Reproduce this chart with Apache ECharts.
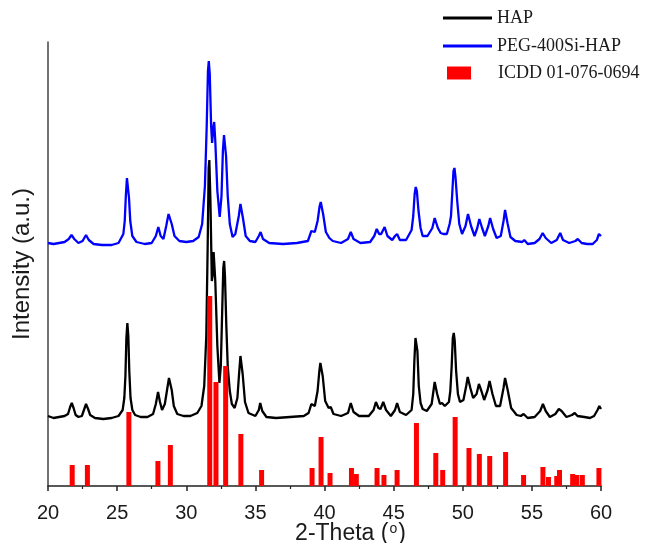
<!DOCTYPE html>
<html>
<head>
<meta charset="utf-8">
<script src="https://cdn.jsdelivr.net/npm/echarts@6/dist/echarts.min.js"></script>
<style>
  html, body { margin: 0; padding: 0; background: #fff; }
  #chart { width: 645px; height: 543px; }
</style>
</head>
<body>
<div id="chart"></div>
<script>
// X-ray diffraction patterns, 2-theta (degrees) vs. stacked intensity (arbitrary units)
const xTicks = [20, 25, 30, 35, 40, 45, 50, 55, 60];

const seriesNames = ['HAP', 'PEG-400Si-HAP', 'ICDD 01-076-0694'];

// HAP pattern [2-theta, intensity]
const hapPattern = [
  [20.0,70],[20.4,68],[20.8,69],[21.2,70],[21.45,72],[21.6,79],[21.72,83],[21.85,78],[22.0,71],[22.2,69],
  [22.45,70],[22.6,76],[22.75,82],[22.9,77],[23.05,71],[23.4,68],[24.0,67],[24.6,68],[25.1,70],[25.4,76],
  [25.52,88],[25.6,110],[25.67,148],[25.74,163],[25.81,150],[25.88,115],[25.97,88],[26.1,76],[26.3,71],[26.7,69],
  [27.2,69],[27.6,72],[27.8,82],[27.96,94],[28.1,84],[28.25,76],[28.45,82],[28.6,95],[28.75,108],[28.82,109],
  [28.95,96],[29.1,80],[29.35,72],[29.8,70],[30.3,70],[30.8,73],[31.1,80],[31.3,100],[31.45,150],[31.55,240],
  [31.62,318],[31.67,326],[31.75,285],[31.85,205],[31.92,212],[31.98,234],[32.03,236],[32.1,205],[32.25,140],[32.4,103],
  [32.5,120],[32.6,175],[32.68,218],[32.74,225],[32.8,210],[32.9,160],[33.0,120],[33.15,95],[33.3,82],[33.5,78],
  [33.7,88],[33.82,112],[33.92,130],[33.98,131],[34.08,112],[34.25,84],[34.5,73],[35.0,70],[35.25,76],[35.35,83],
  [35.5,75],[35.8,69],[36.5,68],[37.5,69],[38.5,70],[38.85,73],[39.05,82],[39.15,84],[39.3,80],[39.5,95],
  [39.62,114],[39.7,123],[39.77,124],[39.87,110],[40.05,85],[40.3,78],[40.45,79],[40.65,72],[41.2,70],[41.7,73],
  [41.9,83],[42.1,74],[42.5,70],[43.2,70],[43.55,76],[43.72,84],[43.9,78],[44.05,77],[44.25,84],[44.45,76],
  [44.8,70],[45.1,76],[45.25,83],[45.45,74],[45.9,71],[46.3,76],[46.42,92],[46.5,125],[46.58,148],[46.65,150],
  [46.72,135],[46.82,100],[46.95,83],[47.1,77],[47.4,75],[47.75,82],[47.9,97],[47.97,104],[48.05,103],[48.15,92],
  [48.35,82],[48.5,83],[48.7,80],[49.0,84],[49.1,95],[49.2,120],[49.28,148],[49.35,153],[49.42,145],[49.52,115],
  [49.65,92],[49.8,84],[50.05,86],[50.25,100],[50.36,109],[50.44,110],[50.55,98],[50.75,88],[51.0,92],[51.17,102],
  [51.24,102],[51.35,95],[51.55,86],[51.8,96],[51.94,105],[52.02,105],[52.15,92],[52.4,80],[52.7,80],[52.95,98],
  [53.06,108],[53.13,109],[53.25,96],[53.5,78],[53.9,71],[54.2,70],[54.4,72],[54.7,68],[55.2,69],[55.6,75],
  [55.8,82],[56.0,75],[56.3,69],[56.7,72],[56.95,77],[57.15,75],[57.5,69],[57.9,71],[58.1,73],[58.3,70],
  [58.8,69],[59.2,68],[59.5,70],[59.75,76],[59.88,80],[60.0,77]
];

// PEG-400Si-HAP pattern [2-theta, intensity], offset upward
const pegPattern = [
  [20.0,243],[20.4,242],[20.8,243],[21.2,244],[21.5,247],[21.7,251],[21.9,247],[22.2,243],[22.5,245],[22.75,251],
  [22.95,246],[23.3,242],[23.9,241],[24.6,241],[25.1,243],[25.45,252],[25.55,265],[25.63,290],[25.71,308],[25.78,307],
  [25.86,288],[25.95,265],[26.1,250],[26.4,244],[27.0,242],[27.5,243],[27.8,250],[27.98,259],[28.15,250],[28.35,247],
  [28.55,260],[28.72,272],[28.8,273],[28.95,262],[29.15,250],[29.5,245],[30.0,244],[30.5,245],[30.9,249],[31.15,262],
  [31.35,300],[31.48,360],[31.57,415],[31.63,425],[31.7,412],[31.8,360],[31.87,343],[31.95,358],[32.02,364],[32.1,345],
  [32.25,295],[32.42,269],[32.55,290],[32.65,335],[32.73,351],[32.79,351],[32.88,330],[33.0,290],[33.15,262],[33.35,249],
  [33.55,252],[33.8,270],[33.92,282],[33.99,283],[34.1,268],[34.3,250],[34.6,245],[35.0,244],[35.25,250],[35.38,254],
  [35.55,247],[36.0,243],[37.0,242],[38.0,243],[38.8,245],[39.05,255],[39.15,257],[39.3,254],[39.5,265],[39.65,280],
  [39.73,284],[39.8,283],[39.9,272],[40.1,254],[40.35,248],[40.6,245],[41.2,243],[41.7,247],[41.9,254],[42.1,247],
  [42.6,243],[43.3,244],[43.6,250],[43.78,257],[43.95,252],[44.1,252],[44.35,259],[44.55,250],[44.9,246],[45.1,250],
  [45.25,252],[45.45,246],[45.9,246],[46.3,256],[46.42,270],[46.52,292],[46.6,299],[46.68,295],[46.8,275],[46.95,258],
  [47.1,250],[47.45,250],[47.8,258],[47.97,268],[48.05,269],[48.2,258],[48.4,253],[48.6,252],[48.85,252],[49.05,262],
  [49.15,270],[49.25,295],[49.33,315],[49.4,318],[49.48,308],[49.6,285],[49.75,262],[49.95,252],[50.2,260],[50.38,272],
  [50.45,273],[50.6,260],[50.85,250],[51.05,258],[51.2,267],[51.26,266],[51.4,258],[51.6,250],[51.85,260],[51.98,268],
  [52.05,267],[52.2,257],[52.45,248],[52.75,250],[52.95,265],[53.06,276],[53.13,277],[53.25,262],[53.45,249],[53.8,245],
  [54.3,244],[54.45,246],[54.7,242],[55.2,243],[55.55,247],[55.78,253],[56.0,248],[56.4,243],[56.8,246],[57.05,253],
  [57.25,246],[57.7,243],[58.15,245],[58.32,247],[58.6,243],[59.0,242],[59.4,242],[59.7,246],[59.85,252],[60.0,250]
];

// Reference card reflections [2-theta, relative intensity]
const icddLines = [
  [21.75,21],[22.85,21],[25.85,74],[27.95,25],[28.85,41],[31.7,190],[32.15,104],[32.85,120],[33.95,52],[35.45,16],
  [39.1,18],[39.75,49],[40.4,13],[41.95,18],[42.3,12],[43.8,18],[44.3,11],[45.25,16],[46.65,63],[48.05,33],
  [48.55,16],[49.45,69],[50.45,38],[51.2,32],[51.95,30],[53.1,34],[54.4,11],[55.8,19],[56.2,9],[56.8,10],
  [57.0,16],[57.95,12],[58.25,11],[58.65,11],[59.85,18]
];

const chart = echarts.init(document.getElementById('chart'), null, { renderer: 'canvas' });

const legendText = {
  fontFamily: 'Liberation Serif',
  fontSize: 18,
  color: '#1a1a1a'
};

chart.setOption({
  animation: false,
  backgroundColor: '#ffffff',
  grid: { left: 48, right: 44, top: 42, bottom: 57, containLabel: false, outerBoundsMode: 'none' },
  legend: [
    {
      data: [seriesNames[0]], left: 443, top: 9, padding: 0,
      icon: 'rect', itemWidth: 49, itemHeight: 3, textStyle: legendText
    },
    {
      data: [seriesNames[1]], left: 443, top: 37, padding: 0,
      icon: 'rect', itemWidth: 49, itemHeight: 3, textStyle: legendText
    },
    {
      data: [seriesNames[2]], left: 447, top: 64, padding: 0,
      icon: 'rect', itemWidth: 24, itemHeight: 13,
      textStyle: Object.assign({ padding: [0, 0, 0, 22] }, legendText)
    }
  ],
  xAxis: {
    type: 'value',
    min: xTicks[0],
    max: xTicks[xTicks.length - 1],
    interval: 5,
    name: '2-Theta ({s|o})',
    nameLocation: 'middle',
    nameGap: 36,
    nameMoveOverlap: false,
    nameTextStyle: {
      fontFamily: 'Liberation Sans',
      fontSize: 23,
      color: '#1a1a1a',
      padding: [0, 0, 0, 52],
      rich: {
        s: { fontFamily: 'Liberation Sans', fontSize: 14, color: '#1a1a1a', verticalAlign: 'top', padding: [0, 1, 9, 1] }
      }
    },
    axisLine: { show: true, onZero: false, lineStyle: { color: '#222', width: 1.5 } },
    axisTick: { show: true, inside: false, length: 5, lineStyle: { color: '#222', width: 1.5 } },
    minorTick: { show: true, splitNumber: 2, length: 3, lineStyle: { color: '#222', width: 1.2 } },
    axisLabel: {
      margin: 17,
      fontFamily: 'Liberation Sans',
      fontSize: 20,
      color: '#1a1a1a',
      customValues: xTicks
    },
    splitLine: { show: false },
    minorSplitLine: { show: false }
  },
  yAxis: {
    type: 'value',
    min: 0,
    max: 444,
    name: 'Intensity (a.u.)',
    nameLocation: 'middle',
    nameGap: 14,
    nameMoveOverlap: false,
    nameTextStyle: { fontFamily: 'Liberation Sans', fontSize: 24, color: '#1a1a1a' },
    axisLine: { show: true, lineStyle: { color: '#444', width: 1.5 } },
    axisTick: { show: false },
    axisLabel: { show: false },
    splitLine: { show: false }
  },
  series: [
    {
      name: seriesNames[1],
      type: 'line',
      data: pegPattern,
      symbol: 'none',
      smooth: false,
      color: '#0000ff',
      lineStyle: { color: '#0000ff', width: 2.3 },
      z: 2
    },
    {
      name: seriesNames[0],
      type: 'line',
      data: hapPattern,
      symbol: 'none',
      smooth: false,
      color: '#000000',
      lineStyle: { color: '#000000', width: 2.3 },
      z: 3
    },
    {
      name: seriesNames[2],
      type: 'bar',
      data: icddLines,
      barWidth: 5,
      color: '#ff0000',
      itemStyle: { color: '#ff0000' },
      z: 4
    }
  ]
});
</script>
</body>
</html>
